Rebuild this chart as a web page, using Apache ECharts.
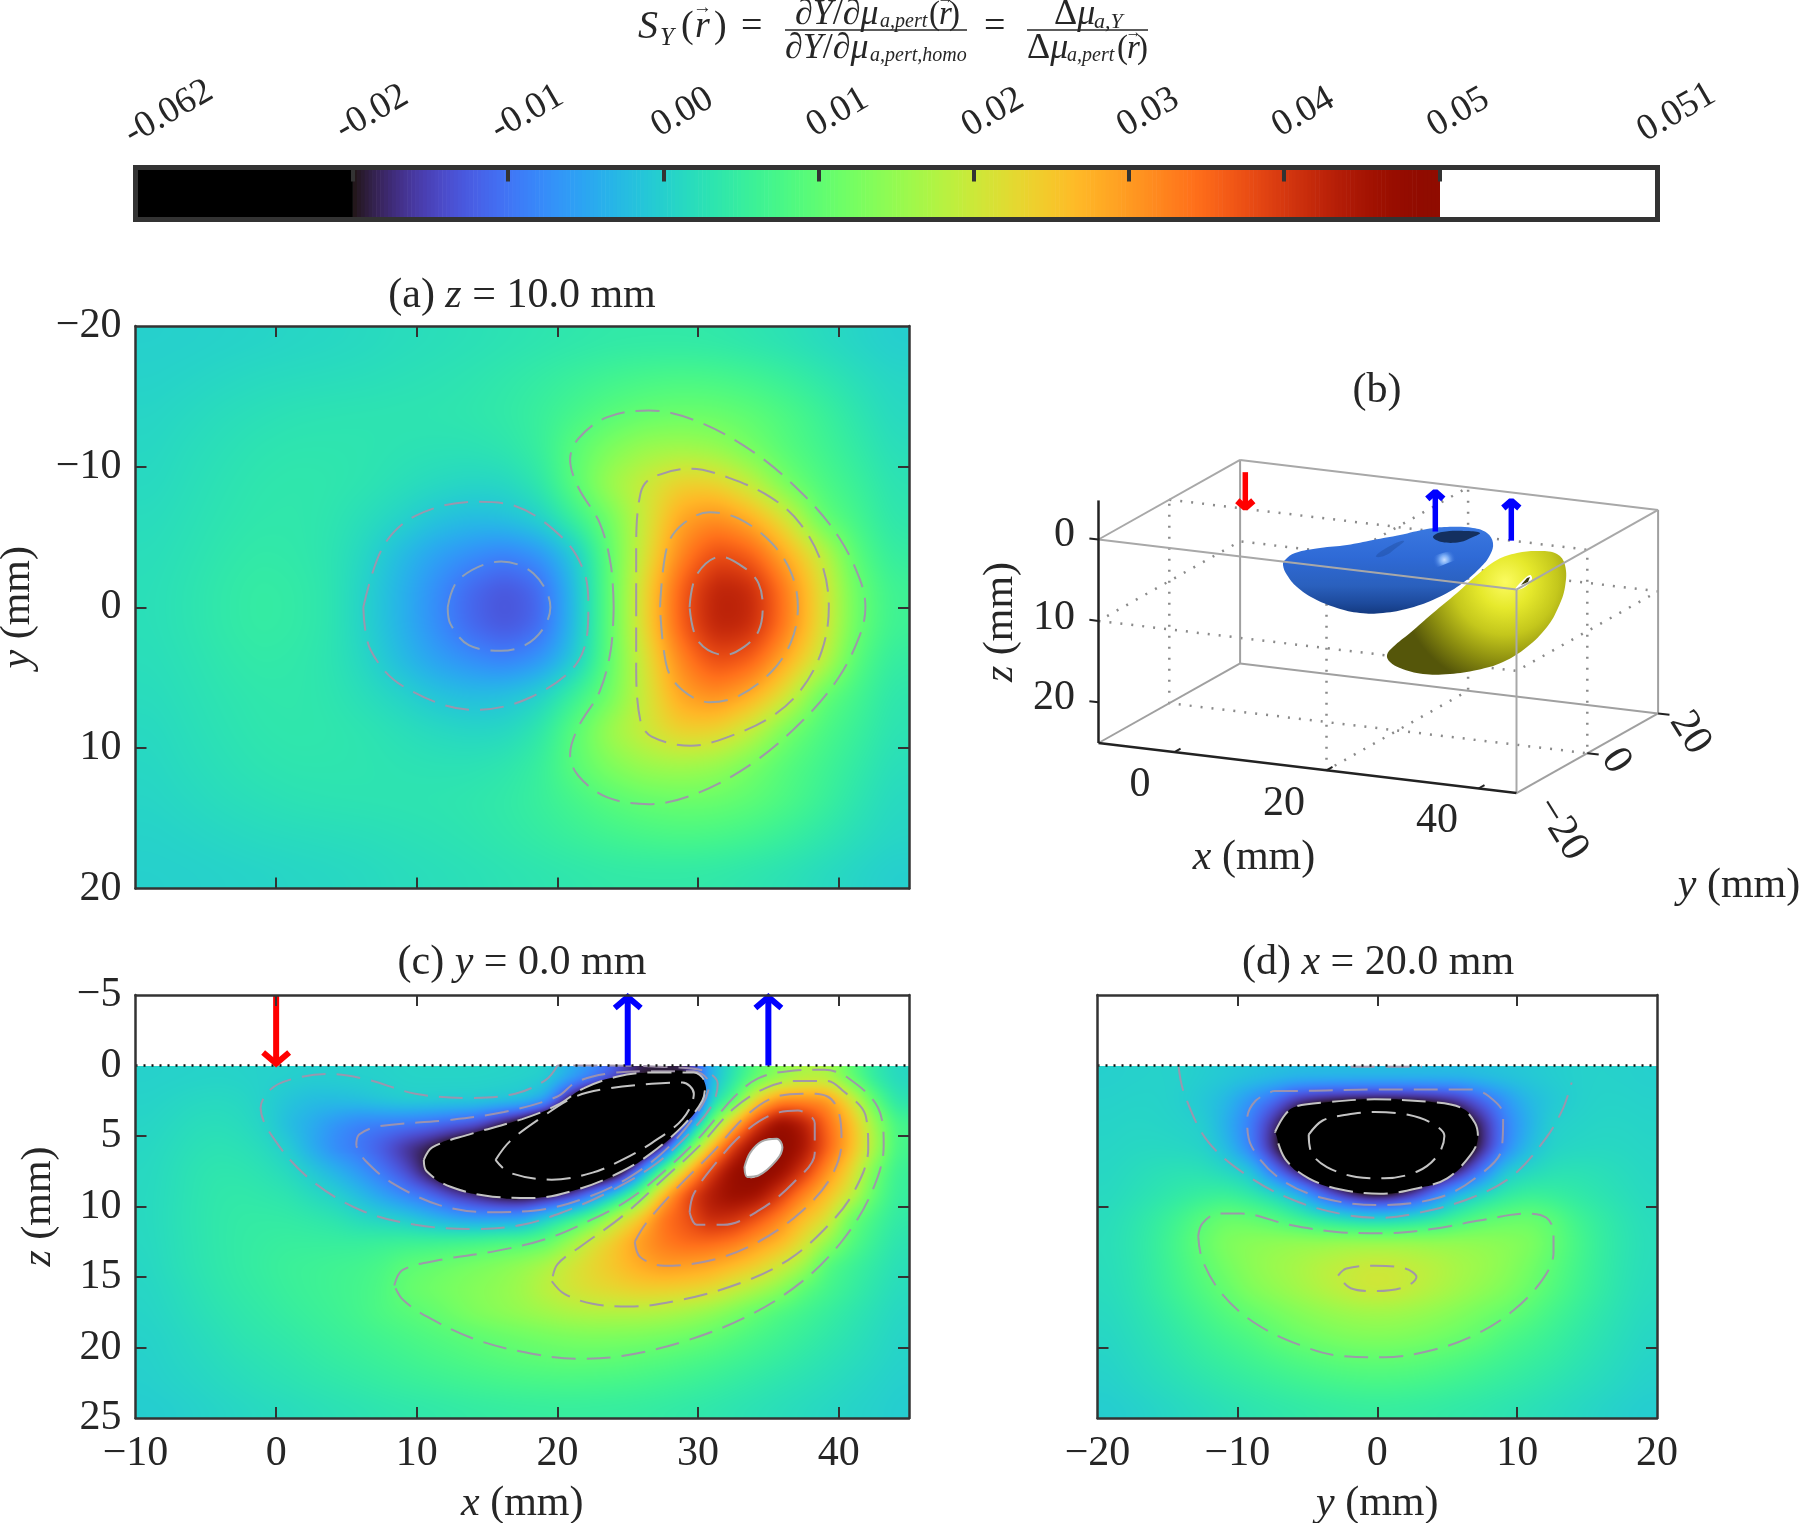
<!DOCTYPE html>
<html><head><meta charset="utf-8">
<style>html,body{margin:0;padding:0;background:#fff}#c{width:1800px;height:1523px}</style>
<script src="https://cdn.jsdelivr.net/npm/echarts@6/dist/echarts.min.js"></script>
</head><body><div id="c"></div>
<script>
// ---------- colour bar ----------
const colorbarTicks=[-0.02,-0.01,0,0.01,0.02,0.03,0.04,0.05];
const colorbarTickLabels=['-0.02','-0.01','0.00','0.01','0.02','0.03','0.04','0.05'];
const colorbarMinLabel='-0.062', colorbarMaxLabel='0.051';
// ---------- field values, unit 0.001, cell centred ----------
const fieldA=[ // z=10, rows y=-18.75..18.75 step 2.5, cols x=-8.75..43.75 step 2.5
[0,.1,.3,.5,.8,1,1.3,1.7,2,2.3,2.7,3.1,3.5,3.9,4,4,3.8,3.2,2.5,1.5,.6,-.2],
[.3,.6,1,1.4,1.6,1.8,2,2.3,2.6,3,3.6,4.4,5.4,6.4,7.2,7.6,7.3,6.5,5.2,3.6,2,.8],
[.7,1.2,1.8,2.2,2.6,2.8,2.9,3,3.1,3.4,4,5.2,7,9,10.4,11,10.8,9.6,7.8,5.6,3.2,1.3],
[1,1.7,2.3,2.9,3.2,3.2,3.1,2.8,2.6,2.6,3.2,5,9.5,13,15.5,16,15,12,8.8,6.5,4.2,2],
[1.3,2,2.7,3.3,3.5,3.4,3,2.2,1.4,.8,1,3.5,9.5,16,20,24,23.5,19,12,8,5.4,2.8],
[1.7,2.3,3,3.5,3.6,3.2,2,.5,-1.5,-2.5,-2,0,5.5,11.5,20,29,31.5,28,21,10.5,6.8,3.4],
[2,2.6,3.4,4,3.8,3,1,-2.5,-5.5,-7.5,-9,-7,-1,10,21,32,38,36,28,19.5,9,4.6],
[2.2,2.9,3.8,4.5,4.2,3.2,.3,-3.5,-7.5,-11.5,-13.5,-11.5,-2.5,10,23,36,43,42,33,22,11,6],
[2.2,2.9,3.8,4.5,4.2,3.2,.3,-3.5,-7.5,-11.5,-13.5,-11.5,-2.5,10,23,36,43,42,33,22,11,6],
[2,2.6,3.4,4,3.8,3,1,-2.5,-5.5,-7.5,-9,-7,-1,10,21,32,38,36,28,19.5,9,4.6],
[1.7,2.3,3,3.5,3.6,3.2,2,.5,-1.5,-2.5,-2,0,5.5,11.5,20,29,31.5,28,21,10.5,6.8,3.4],
[1.3,2,2.7,3.3,3.5,3.4,3,2.2,1.4,.8,1,3.5,9.5,16,20,24,23.5,19,12,8,5.4,2.8],
[1,1.7,2.3,2.9,3.2,3.2,3.1,2.8,2.6,2.6,3.2,5,9.5,13,15.5,16,15,12,8.8,6.5,4.2,2],
[.7,1.2,1.8,2.2,2.6,2.8,2.9,3,3.1,3.4,4,5.2,7,9,10.4,11,10.8,9.6,7.8,5.6,3.2,1.3],
[.3,.6,1,1.4,1.6,1.8,2,2.3,2.6,3,3.6,4.4,5.4,6.4,7.2,7.6,7.3,6.5,5.2,3.6,2,.8],
[0,.1,.3,.5,.8,1,1.3,1.7,2,2.3,2.7,3.1,3.5,3.9,4,4,3.8,3.2,2.5,1.5,.6,-.2]];
const fieldC=[ // y=0, rows z=0.83..24.17 step 1.667, cols x=-9.17..44.17 step 1.667
[.1,.2,.3,.4,.3,.1,0,-.3,-.2,0,.2,.5,.6,.6,.6,.5,.3,0,-4,-8,-13,-19,-19,-19,-4,3,9.5,14,17,17,10,4,1],
[.4,.7,1.1,1.3,1,0,-1.5,-2.5,-2.5,-2,-1,-.2,-.3,-.5,-.5,-1,-1.5,-5,-20,-32,-36,-37,-37,-34,0,8,24,32,32,31,22,10,3],
[.7,1.2,1.8,2,1.6,.4,-2.5,-4.5,-7,-9,-9.5,-10,-11,-12.5,-14,-19,-24,-32,-37,-42,-44,-44,-42,-10,10,27,40,48,44,35,27,16,7],
[1,1.6,2.3,2.7,2.4,1.5,-.5,-4.5,-8,-10,-13,-17,-19.5,-23,-26,-29,-33,-37,-39,-39,-37,-30,-16,8,26,40,48,49,45,36,27,17,7],
[1.2,1.9,2.8,3.3,3.2,2.6,1.4,-1,-3.5,-6.5,-10,-14,-20,-25,-27,-29,-31,-32,-31,-30,-25,-9,10,26,39,47,49.5,47,40,31,23,12,5.5],
[1.3,2,2.9,3.6,3.8,3.5,3,1.5,0,-2.5,-5.5,-8.5,-11,-15,-18,-21,-22,-20.5,-17,-9,0,11,27,38,44,47,46,39.5,32,26,19.5,10,5],
[1.3,2.1,3,3.7,4.2,4.3,4.2,3.7,3,1.4,.3,-.8,-3,-5,-6,-6,-5.5,0,5,10,18.5,25,34,37,42,41,37,32,26,21.5,11,7,4],
[1.2,2,2.9,3.7,4.3,4.7,5,5,5,5,5.5,5.8,6,6.5,7,8,8.5,10,15,21,25,30,33,35,35,33.5,30,27,21.5,15,9,5.5,3],
[1,1.9,2.8,3.6,4.3,4.9,5.5,5.8,6.2,6.6,7.5,9.5,10.5,11.5,12.5,13.5,15,17,20.5,23,25.5,28,30,29.5,28.5,26.5,24,20,16,8.5,6,4,2.2],
[.8,1.5,2.4,3.3,4,4.6,5.3,5.8,6.3,6.9,8,10.5,11.5,12.5,13.5,14.5,16,18.5,20.5,22,23,24,24,23.5,22.5,19.5,17,14,9.5,7,5,3.1,1.6],
[.6,1.2,2,2.8,3.5,4.1,4.8,5.4,6,6.8,8,9,10,11.5,13,14,15,16,17,17.5,17.5,17.5,17,16,14.5,12.5,10,8,6.5,5,3.5,2.2,1],
[.3,.8,1.5,2.2,3,3.5,4,4.7,5.3,5.9,6.6,7.4,8.2,9,9.8,10.6,11.3,12,12.5,12.8,12.7,12.5,12,11.3,10.2,8.8,7.4,6.2,5,3.8,2.7,1.6,.6],
[.1,.6,1.1,1.7,2.3,2.8,3.3,3.9,4.5,5,5.6,6.2,6.9,7.5,8.2,8.8,9.3,9.7,10,9.9,9.7,9.2,8.7,8,7.3,6.4,5.5,4.6,3.6,2.7,1.9,1.1,.3],
[-.1,.3,.7,1.2,1.7,2.2,2.6,3.1,3.5,4,4.5,5,5.4,5.9,6.3,6.7,7,7.2,7.3,7.2,7,6.7,6.2,5.7,5.1,4.4,3.7,3,2.4,1.8,1.1,.5,-.1],
[-.4,-.2,.2,.6,1,1.4,1.7,2.1,2.5,2.8,3.2,3.5,3.8,4.1,4.4,4.6,4.8,4.9,5,4.9,4.8,4.6,4.3,3.9,3.5,3,2.5,2,1.5,1,.5,.1,-.4]];
const fieldD=[ // x=20, rows z=0.83..24.17 step 1.667, cols y=-19.17..19.17 step 1.667
[-.1,.1,.2,.1,-.4,-1,-1.5,-2,-2.5,-2.5,-2.5,-2.5,-2.5,-2.5,-2.5,-2.5,-2,-1.5,-1,-.4,0,.2,.1,-.1],
[.2,.4,.4,-.1,-1.2,-3,-7,-11,-17,-19,-20,-20.5,-20.5,-20,-19,-17,-12,-7,-3,-1.2,-.1,.4,.4,.2],
[.5,.7,.6,.3,-.2,-4,-9,-17,-24,-29,-33,-35,-35,-33,-29,-24,-18,-9,-4,0,.4,.7,.7,.5],
[.7,1,1.1,.9,.4,-2.6,-8.5,-18,-26,-32,-38,-41,-41,-38,-32,-26,-18,-8.5,-2.6,.4,.9,1.1,1,.7],
[1,1.6,2.2,2.6,2.4,1,-1,-9.5,-18,-24,-30,-33,-33,-30,-24,-18,-9.5,-1,1,2.4,2.6,2.2,1.6,1],
[1.3,2.1,3,4,5,5.5,4,1.5,-2.5,-10,-16,-20,-20,-16,-9,-2.5,1,4,5.5,5,4,3,2.1,1.3],
[1.8,2.9,4.5,6.5,9,11,10.5,8.8,6,3.5,1.5,.3,.3,1.5,3.5,6.5,9.3,10.5,11,9.5,6.5,4.5,2.9,1.8],
[2,3.2,5,7.5,10.5,13,14,14.5,15,15,15.5,15.5,15.5,15.5,15,15,14.5,14,13,10.5,7.5,5,3.2,2],
[1.9,3,4.8,7,9.5,12,14,15.5,16.5,18,19,20,20,19,18,16.5,15.5,14,12,9.5,7,4.8,3,1.9],
[1.7,2.8,4.5,6.4,8.5,10.6,13,14.5,16,17.5,19,20.3,20.3,19,17.5,16,14.5,13,11,8.7,6.4,4.5,2.8,1.7],
[1.3,2.3,3.6,5.2,6.9,8.7,10.3,11.8,13.2,14.4,15.3,15.8,15.8,15.3,14.4,13.2,11.8,10.6,8.9,6.9,5.2,3.6,2.3,1.3],
[.9,1.8,2.9,4.1,5.5,6.8,8,9.7,11,12,12.8,13.2,13.2,12.8,12,11,9.8,8,6.8,5.5,4.1,2.9,1.8,.9],
[.5,1.3,2.2,3.2,4.3,5.2,6.2,7.2,8.2,9,9.7,10,10,9.7,9,8.2,7.2,6.2,5.2,4.3,3.2,2.2,1.3,.5],
[.1,.8,1.5,2.2,3,3.8,4.5,5.2,5.9,6.5,7,7.3,7.3,7,6.5,5.9,5.2,4.5,3.8,3,2.2,1.5,.8,.1],
[-.4,0,.6,1.2,1.8,2.4,3,3.5,3.9,4.3,4.6,4.8,4.8,4.6,4.3,3.9,3.5,3,2.4,1.8,1.2,.6,0,-.4]];
// ---------- contour lines, [mm, mm] ----------
const contA_p10=[[24,0],[23.8,-3],[23,-6],[21.5,-8.5],[20.9,-10.5],[21.5,-12],[23.5,-13.5],[26.5,-14],[30,-13.2],[34,-11],[37.5,-8],[40,-5],[41.5,-2],[41.9,0],[41.5,2],[40,5],[37.5,8],[34,11],[30,13.2],[26.5,14],[23.5,13.5],[21.5,12],[20.9,10.5],[21.5,8.5],[23,6],[23.8,3],[24,0]];
const contA_p20=[[25.6,0],[25.6,-4],[25.9,-8.06],[26.7,-9.2],[29.5,-9.85],[32.2,-9.2],[35.2,-7.8],[37.3,-5.9],[38.8,-3.1],[39.3,0],[38.8,3.1],[37.3,5.9],[35.2,7.8],[32.2,9.2],[29.5,9.85],[26.7,9.2],[25.9,8.06],[25.6,4],[25.6,0]];
const contA_p30=[[27.3,0],[27.8,-4.3],[28.9,-5.9],[30.8,-6.75],[32.9,-6.3],[35.2,-4.6],[36.6,-2.5],[37.1,0],[36.6,2.5],[35.2,4.6],[32.9,6.3],[30.8,6.75],[28.9,5.9],[27.8,4.3],[27.3,0]];
const contA_p40=[[29.4,0],[29.9,-2.3],[31.6,-3.6],[33.3,-2.8],[34.3,-1.7],[34.6,0],[34.3,1.7],[33.3,2.8],[31.9,3.4],[30,2.4],[29.4,0]];
const contA_0=[[6.2,0],[7.6,-4.3],[9.9,-6.5],[14.1,-7.5],[17,-7.2],[20.4,-4.9],[21.9,-2.5],[22.2,0],[21.5,3.8],[18.1,6.4],[14.1,7.3],[9,5.6],[6.7,3],[6.2,0]];
const contA_n10=[[12.2,0],[13,-2],[16,-3.25],[18.3,-2.4],[19.5,0],[19,1.5],[17.7,2.7],[16,3.1],[13.7,2.7],[12.4,1.2],[12.2,0]];
const contC_0=[[20,0],[19.2,1],[17,2],[13.7,2.3],[9.9,2],[6.5,1],[3.6,.6],[1,1],[-.4,1.7],[-1.1,3],[.2,5.7],[2.7,8.3],[6.1,10.3],[9.9,11.3],[14.1,11.6],[17.5,11.3],[20.4,10.4],[23.4,9.1],[26.7,7.2],[29.3,4.9],[31,2.8],[31.4,1.3],[30.5,.4],[27.6,.1],[23.4,0],[20,0]];
const contC_n10=[[5.7,5.7],[5.9,4.9],[7.4,4.3],[12,3.9],[16.2,3.3],[20,2.2],[21.3,1.2],[23.4,.6],[26.7,.4],[29.7,.4],[30.8,1.3],[30.3,2.8],[28,5.7],[25,8],[21.7,9.5],[18.3,10.3],[15,10.4],[11.6,9.9],[8.2,8.3],[6.3,6.7],[5.7,5.7]];
const contC_n20=[[10.5,6.7],[11.1,5.8],[13.7,4.9],[17.5,3.8],[20,2.8],[21.9,1.6],[24.2,.8],[26.7,.5],[29.7,.5],[30.5,1.3],[30.3,2.5],[28.9,4.3],[26.7,6.2],[24.6,7.5],[21.7,8.7],[18.3,9.4],[15.4,9.3],[12.4,8.6],[10.7,7.5],[10.5,6.7]];
const contC_n30=[[15.6,6.7],[16.6,5.4],[18.7,3.8],[21.3,2.2],[23.8,1.6],[26.7,1.3],[28.9,1.2],[29.7,2],[28.9,3.8],[26.7,5.5],[24.6,6.7],[22.5,7.6],[19.6,8.1],[16.6,7.6],[15.6,6.7]];
const contC_p10=[[8.4,15.6],[9,14.5],[11.6,13.8],[15.4,13.2],[19.2,12.3],[22.5,10.9],[25.1,9.5],[27.6,7.5],[30.1,5.1],[32.6,2.2],[34.3,.9],[36.4,.4],[39,.3],[40.7,.9],[42.8,3],[43.2,5.7],[42.3,9.1],[40.2,12.5],[37.3,15.4],[33.5,17.8],[28.9,19.6],[24.6,20.6],[21.3,20.8],[17.5,20.3],[14.1,19.4],[10.7,17.8],[9,16.6],[8.4,15.6]];
const contC_p20=[[19.6,15.3],[20.5,16.2],[22.5,16.9],[25.1,17.1],[28.9,16.6],[33.1,15.4],[36.4,13.8],[38.9,11.7],[41,9.1],[42.1,5.9],[41.9,3.5],[40.2,1.7],[39.2,1.1],[36.9,1.1],[34.8,1.6],[32.6,3],[30.1,5.7],[27.6,8],[24.6,10.7],[21.7,12.8],[20,14.1],[19.6,15.3]];
const contC_p30=[[25.5,12.5],[25.9,13.6],[27.6,14.2],[31,13.8],[34.3,12.5],[37.3,10.4],[39.4,8],[40.2,5.4],[40,3.3],[39.2,2.2],[37.7,2],[35.6,2.2],[33.5,3.5],[31,6.2],[28.4,8.8],[26.3,11.2],[25.5,12.5]];
const contC_p40=[[29.4,10.4],[29.9,11.3],[31.8,11.3],[34.3,10.3],[36.8,8.3],[38.3,6.2],[38.3,4.1],[37.1,3.2],[35.2,3.5],[33.1,4.9],[31.2,7],[29.7,9.1],[29.4,10.4]];
const contC_p50=[[33.3,7.2],[33.7,6.2],[34.5,5.4],[35.6,5.2],[36,5.8],[35.6,6.7],[34.3,7.8],[33.5,7.9],[33.3,7.2]];
const contD_0=[[-14.2,.1],[-13.8,2],[-12.1,5.4],[-9,8],[-5.6,9.7],[-2.2,10.6],[.2,10.8],[3.2,10.4],[6.7,9.4],[9.7,7.8],[12.1,5.1],[13.3,3],[13.9,1.2]];
const contD_top=[[-1.9,.08],[3.2,.08]];
const contD_n10=[[-7.4,1.8],[-5.6,1.8],[-.2,1.7],[6.7,1.7],[8,2.2],[9,3.5],[8.9,5.9],[7,8],[4.3,9.4],[.2,9.9],[-3.9,9.4],[-7,8],[-9,5.7],[-9.3,3.8],[-8.7,2.5],[-7.4,1.8]];
const contD_n20=[[-7.3,4.7],[-6.6,3.5],[-5.8,2.9],[-3.6,2.6],[-.2,2.4],[4,2.6],[6,3],[7,4.1],[7.2,5.1],[6.7,6.3],[5,8],[2.9,8.7],[.2,9.1],[-2.6,8.8],[-4.9,8],[-6.6,6.6],[-7.3,4.7]];
const contD_n30=[[-4.9,4.9],[-3.9,3.9],[-2.2,3.5],[-.2,3.3],[2.2,3.5],[3.9,4.1],[4.8,5],[4.3,6.4],[2.9,7.5],[.5,8],[-1.5,7.9],[-3.6,7.2],[-4.7,6.2],[-4.9,4.9]];
const contD_p10=[[-12.8,12.1],[-12.5,11.2],[-11.4,10.5],[-9.7,10.5],[-6.3,11.3],[-2.9,11.8],[.5,11.9],[3.9,11.6],[7.3,11],[10.7,10.5],[12.1,10.8],[12.6,11.9],[12.6,13.3],[11.8,15.2],[9.7,17.4],[7,19.1],[3.9,20.2],[.5,20.7],[-2.6,20.6],[-5.6,19.8],[-8.7,18.3],[-11.1,16.2],[-12.5,13.8],[-12.8,12.1]];
const contD_p20=[[-2.8,14.9],[-2.2,14.4],[-.2,14.2],[2,14.4],[2.8,15],[2,15.7],[-.2,16],[-1.9,15.8],[-2.8,14.9]];
// ---------- source / detector arrows [position, from depth, to depth] ----------
const arrowsC=[[0,-5,0,'#ff0000'],[25,0,-5,'#0000ff'],[35,0,-5,'#0000ff']];
const arrows3D=[[0,0,-4.5,0,'#ff0000'],[25,0,0,-5,'#0000ff'],[35,0,0,-5,'#0000ff']];
// ---------- panel (b) ----------
const sliceZ=[[-10,-20,10],[45,-20,10],[45,20,10],[-10,20,10],[-10,-20,10]];
const sliceY=[[-10,0,0],[45,0,0],[45,0,25],[-10,0,25],[-10,0,0]];
const sliceX=[[20,-20,0],[20,20,0],[20,20,25],[20,-20,25],[20,-20,0]];
const boxBack=[[[-10,20,0],[-10,20,25]],[[-10,-20,25],[-10,20,25]],[[-10,20,25],[45,20,25]],[[45,20,0],[45,20,25]],[[45,-20,25],[45,20,25]]];
const boxFront=[[[-10,-20,0],[45,-20,0]],[[-10,-20,0],[-10,20,0]],[[-10,20,0],[45,20,0]],[[45,20,0],[45,-20,0]],[[45,-20,0],[45,-20,25]]];
const axes3Dark=[[[-10,-20,-4.8],[-10,-20,25]],[[-10,-20,25],[45,-20,25]]];
const blueBlob=[[1283,565],[1285,560],[1295,553],[1320,548],[1347,545],[1373,540],[1400,535],[1427,529],[1447,527],[1473,528],[1487,533],[1493,543],[1490,555],[1480,568],[1460,585],[1437,598],[1410,608],[1383,613],[1360,613],[1337,608],[1313,598],[1297,587],[1287,575]];
const blueStreak=[[1412,568],[1434,556],[1458,551],[1464,555],[1448,563],[1425,570]];
const blueCrease=[[1376,556],[1392,545],[1404,541],[1396,548],[1384,556]];
const blueHole=[[1433,537],[1442,532],[1467,531],[1480,533],[1473,537],[1460,542],[1442,542]];
const yellowBlob=[[1387,655],[1393,647],[1410,633],[1433,613],[1457,593],[1477,575],[1497,560],[1517,553],[1540,551],[1557,554],[1565,565],[1565,587],[1558,608],[1547,627],[1527,647],[1503,662],[1477,670],[1450,674],[1423,674],[1400,668],[1390,662]];
const yellowGlint=[[1515,590],[1522,581],[1530,575],[1532,579],[1525,587]];
const yellowHole=[[1521,585],[1527,578],[1530,577],[1528,582]];

const FONT='"Liberation Serif"';
const TXT='#262626', AX='#333333', FS=42;
const rich={i:{fontStyle:'italic',fontFamily:FONT,fontSize:FS,color:TXT}};
function turbo(x){
 const c=(a)=>a[0]+x*(a[1]+x*(a[2]+x*(a[3]+x*(a[4]+x*a[5]))));
 const r=c([0.13572138,4.6153926,-42.66032258,132.13108234,-152.94239396,59.28637943]);
 const g=c([0.09140261,2.19418839,4.84296658,-14.18503333,4.27729857,2.82956604]);
 const b=c([0.1066733,12.64194608,-60.58204836,110.36276771,-89.90310912,27.34824973]);
 const f=v=>Math.round(255*Math.max(0,Math.min(1,v)));
 return [f(r),f(g),f(b)];
}
function valColor(v){ // v in units of 0.001
 if(v<-20) return [0,0,0]; if(v>50) return [255,255,255];
 return turbo((v+20)/70);
}
function shade(rows,w,h){
 const ny=rows.length,nx=rows[0].length;
 const F=new Float32Array(w*h);
 for(let j=0;j<h;j++){
  const fy=Math.max(0,Math.min(ny-1.0001,(j+.5)/h*ny-.5)),j0=Math.floor(fy),ty=fy-j0;
  for(let i=0;i<w;i++){
   const fx=Math.max(0,Math.min(nx-1.0001,(i+.5)/w*nx-.5)),i0=Math.floor(fx),tx=fx-i0;
   F[j*w+i]=(rows[j0][i0]*(1-tx)+rows[j0][i0+1]*tx)*(1-ty)+(rows[j0+1][i0]*(1-tx)+rows[j0+1][i0+1]*tx)*ty;
  }
 }
 const rx=Math.round(w/nx*.3),ry=Math.round(h/ny*.3);
 let G=F;
 for(let p=0;p<2;p++){
  const T=new Float32Array(w*h);
  for(let j=0;j<h;j++)for(let i=0;i<w;i++){let s=0,n=0;for(let k=-rx;k<=rx;k+=2){s+=G[j*w+Math.max(0,Math.min(w-1,i+k))];n++}T[j*w+i]=s/n}
  const U=new Float32Array(w*h);
  for(let j=0;j<h;j++)for(let i=0;i<w;i++){let s=0,n=0;for(let k=-ry;k<=ry;k+=2){s+=T[Math.max(0,Math.min(h-1,j+k))*w+i];n++}U[j*w+i]=s/n}
  G=U;
 }
 const cv=document.createElement('canvas');cv.width=w;cv.height=h;
 const ctx=cv.getContext('2d'),im=ctx.createImageData(w,h);
 for(let q=0;q<w*h;q++){const c=valColor(G[q]);im.data[q*4]=c[0];im.data[q*4+1]=c[1];im.data[q*4+2]=c[2];im.data[q*4+3]=255}
 ctx.putImageData(im,0,0);return cv;
}
function fieldSeries(gi,rows,xMin,xMax,yMin,yMax){
 const ny=rows.length,nx=rows[0].length,data=[];
 rows.forEach((r,j)=>r.forEach((v,i)=>data.push([xMin+(i+.5)*(xMax-xMin)/nx,yMin+(j+.5)*(yMax-yMin)/ny,v])));
 let cv=null;
 return {type:'custom',xAxisIndex:gi.x,yAxisIndex:gi.y,z:1,silent:true,data,encode:{x:0,y:1},
  renderItem(p,api){ if(p.dataIndex!==0)return null;
   const a=api.coord([xMin,yMin]),b=api.coord([xMax,yMax]),w=Math.round(b[0]-a[0]),h=Math.round(b[1]-a[1]);
   if(!cv)cv=shade(rows,w,h);
   return {type:'image',style:{image:cv,x:a[0],y:a[1],width:b[0]-a[0],height:b[1]-a[1]},silent:true};
  }};
}
function polySeries(gi,pts,fill,z,smooth){
 return {type:'custom',xAxisIndex:gi.x,yAxisIndex:gi.y,z,silent:true,data:pts,encode:{x:0,y:1},
  renderItem(p,api){ if(p.dataIndex!==0)return null;
   return {type:'polygon',shape:{points:pts.map(q=>api.coord(q)),smooth:smooth==null?.5:smooth},style:{fill}};
  }};
}
function contour(gi,pts,color){
 return {type:'line',xAxisIndex:gi.x,yAxisIndex:gi.y,z:4,data:pts,smooth:.35,showSymbol:false,silent:true,animation:false,
  lineStyle:{color:color||'rgba(160,148,172,.95)',width:2,type:[24,11]}};
}
function arrowSeries(gi,arrows,head,lw){
 return {type:'custom',xAxisIndex:gi.x,yAxisIndex:gi.y,z:6,silent:true,data:arrows.map(a=>[a[0],a[1],a[2]]),encode:{x:0,y:1},
  renderItem(p,api){const a=arrows[p.dataIndex],A=api.coord([a[0],a[1]]),B=api.coord([a[0],a[2]]),s=B[1]>A[1]?-1:1;
   return {type:'group',children:[
    {type:'line',shape:{x1:A[0],y1:A[1],x2:B[0],y2:B[1]},style:{stroke:a[3],lineWidth:lw}},
    {type:'polyline',shape:{points:[[B[0]-head,B[1]+s*head],[B[0],B[1]+s*2],[B[0]+head,B[1]+s*head]]},style:{stroke:a[3],lineWidth:lw,fill:null}}]};
  }};
}
// projection of panel (b): mm -> drawing plane
const proj=(p)=>[1098.5+(p[0]+10)*7.6+(p[1]+20)*3.54,539.5+(p[0]+10)*.91-(p[1]+20)*1.99+p[2]*8.14];
const PAGE={x:7,y:7};
function line3D(pts,color,w,type,z){
 return {type:'line',xAxisIndex:PAGE.x,yAxisIndex:PAGE.y,z,data:pts.map(proj),showSymbol:false,silent:true,animation:false,lineStyle:{color,width:w,type:type||'solid'}};
}
function arrow3D(a){
 const A=proj([a[0],a[1],a[2]]),B=proj([a[0],a[1],a[3]]),s=B[1]>A[1]?-1:1;
 return [
  {type:'line',xAxisIndex:PAGE.x,yAxisIndex:PAGE.y,z:8,data:[A,B],showSymbol:false,silent:true,animation:false,lineStyle:{color:a[4],width:5.5,cap:'butt'}},
  {type:'line',xAxisIndex:PAGE.x,yAxisIndex:PAGE.y,z:8,data:[[B[0]-8,B[1]+s*8],[B[0],B[1]+s],[B[0]+8,B[1]+s*8]],showSymbol:false,silent:true,animation:false,lineStyle:{color:a[4],width:6.5}}];
}
function AXIS(gridIndex,o){
 const base={type:'value',gridIndex,min:o.min,max:o.max,position:o.pos,inverse:!!o.inv,z:10,splitLine:{show:false},
  axisLine:{show:true,onZero:false,lineStyle:{color:AX,width:2.5}},
  axisTick:{show:true,inside:true,length:11,lineStyle:{color:AX,width:2},customValues:o.ticks},
  axisLabel:{show:!!o.labels,customValues:o.labels||[],margin:o.margin||16,color:TXT,fontFamily:FONT,fontSize:FS,
   hideOverlap:false,formatter:v=>v<0?'\u2212'+Math.abs(v):String(v)}};
 if(o.name){base.name=o.name;base.nameLocation='middle';base.nameGap=o.gap;base.nameRotate=o.rot||0;
  base.nameTextStyle={fontFamily:FONT,fontSize:FS,color:TXT,rich};}
 return base;
}
const xt=[0,10,20,30,40], zt=[5,10,15,20];
const xAxes=[
 {type:'value',gridIndex:0,min:-0.03401,max:0.06405,position:'top',splitLine:{show:false},z:10,
  axisLine:{show:false,onZero:false},
  axisTick:{show:true,inside:true,length:14,lineStyle:{color:AX,width:4},customValues:colorbarTicks},
  axisLabel:{show:true,rotate:-30,margin:44,color:TXT,fontFamily:FONT,fontSize:37,hideOverlap:false,
   align:'center',verticalAlign:'middle',padding:[0,0,0,44],
   customValues:[-0.0331,...colorbarTicks,0.06405],
   formatter:v=>{if(v<-0.03)return colorbarMinLabel;if(v>0.06)return colorbarMaxLabel;return colorbarTickLabels[colorbarTicks.findIndex(t=>Math.abs(t-v)<1e-6)]}}},
 AXIS(1,{min:-10,max:45,pos:'bottom',ticks:xt}),AXIS(1,{min:-10,max:45,pos:'top',ticks:xt}),
 AXIS(2,{min:-10,max:45,pos:'bottom',ticks:xt,labels:[-10,0,10,20,30,40],margin:15,name:'{i|x} (mm)',gap:65}),AXIS(2,{min:-10,max:45,pos:'top',ticks:xt}),
 AXIS(3,{min:-20,max:20,pos:'bottom',ticks:[-10,0,10],labels:[-20,-10,0,10,20],margin:15,name:'{i|y} (mm)',gap:65}),AXIS(3,{min:-20,max:20,pos:'top',ticks:[-10,0,10]}),
 {type:'value',gridIndex:4,min:0,max:1800,show:false},
];
const yAxes=[
 {type:'value',gridIndex:0,min:0,max:1,show:false},
 AXIS(1,{min:-20,max:20,inv:true,pos:'left',ticks:[-10,0,10],labels:[-20,-10,0,10,20],margin:14,name:'{i|y} (mm)',gap:97,rot:90}),AXIS(1,{min:-20,max:20,inv:true,pos:'right',ticks:[-10,0,10]}),
 AXIS(2,{min:-5,max:25,inv:true,pos:'left',ticks:zt,labels:[-5,0,5,10,15,20,25],margin:14,name:'{i|z} (mm)',gap:76,rot:90}),AXIS(2,{min:-5,max:25,inv:true,pos:'right',ticks:zt}),
 AXIS(3,{min:-5,max:25,inv:true,pos:'left',ticks:[10,20]}),AXIS(3,{min:-5,max:25,inv:true,pos:'right',ticks:[10,20]}),
 {type:'value',gridIndex:4,min:0,max:1523,inverse:true,show:false},
];
const GA={x:1,y:1},GC={x:3,y:3},GD={x:5,y:5};
const series=[];
// colour bar
const cbSamples=[];
for(let k=0;k<=280;k++)cbSamples.push(k*0.00025-0.02);
series.push({type:'custom',xAxisIndex:0,yAxisIndex:0,z:1,silent:true,data:cbSamples.map(v=>[v,0.5]),encode:{x:0,y:1},
 renderItem(p,api){const v=cbSamples[p.dataIndex],a=api.coord([v,1]),b=api.coord([v+0.00025,0]),c=turbo(Math.min(1,(v+.02)/.07));
  if(p.dataIndex>=280)return null;
  return {type:'rect',shape:{x:a[0],y:a[1],width:b[0]-a[0]+.6,height:b[1]-a[1]},style:{fill:`rgb(${c})`}};}});
series.push({type:'custom',xAxisIndex:0,yAxisIndex:0,z:1,silent:true,data:[[-0.03401,0.5]],encode:{x:0,y:1},
 renderItem(p,api){const a=api.coord([-0.03401,1]),b=api.coord([-0.02,0]);return {type:'rect',shape:{x:a[0],y:a[1],width:b[0]-a[0],height:b[1]-a[1]},style:{fill:'#000'}};}});
// fields
series.push(fieldSeries(GA,fieldA,-10,45,-20,20));
series.push(fieldSeries(GC,fieldC,-10,45,0,25));
series.push(fieldSeries(GD,fieldD,-20,20,0,25));
// black / white regions
series.push(polySeries(GC,contC_n20,'#000',2));
series.push(polySeries(GD,contD_n20,'#000',2));
series.push(polySeries(GC,contC_p50,'#fff',2));
// contours
[contA_p10,contA_p20,contA_0].forEach(c=>series.push(contour(GA,c)));
[contA_p30,contA_p40,contA_n10].forEach(c=>series.push(contour(GA,c,'rgba(150,160,175,.95)')));
[contC_0,contC_n10,contC_p10,contC_p20,contC_p30,contC_p40].forEach(c=>series.push(contour(GC,c)));
series.push(contour(GC,contC_n20,'#c4c4c4'),contour(GC,contC_n30,'#c4c4c4'));
series.push({type:'line',xAxisIndex:GC.x,yAxisIndex:GC.y,z:4,data:contC_p50,smooth:.35,showSymbol:false,silent:true,animation:false,lineStyle:{color:'#aaa',width:2}});
[contD_0,contD_n10,contD_p10,contD_p20,contD_top].forEach(c=>series.push(contour(GD,c)));
series.push(contour(GD,contD_n20,'#c4c4c4'),contour(GD,contD_n30,'#c4c4c4'));
// surface z=0 and arrows
[GC,GD].forEach((g,i)=>{const r=i?[-20,20]:[-10,45];
 series.push({type:'line',xAxisIndex:g.x,yAxisIndex:g.y,z:5,data:[[r[0],0],[r[1],0]],showSymbol:false,silent:true,animation:false,lineStyle:{color:'#111',width:2.5,type:[2,6]}});});
series.push(arrowSeries(GC,arrowsC,13,6));
// panel (b)
[sliceZ,sliceY,sliceX].forEach(s=>series.push(line3D(s,'#8a8a8a',2.5,[2,9],2)));
boxBack.forEach(s=>series.push(line3D(s,'#a0a0a0',2,'solid',2)));
const PG={x:PAGE.x,y:PAGE.y};
const rad=(x,y,r,st)=>({type:'radial',x,y,r,colorStops:st.map(c=>({offset:c[0],color:c[1]}))});
const lin=(st)=>({type:'linear',x:0,y:0,x2:0,y2:1,colorStops:st.map(c=>({offset:c[0],color:c[1]}))});
series.push(polySeries(PG,blueBlob,lin([[0,'#3a78e0'],[.35,'#2f6ad6'],[.68,'#2a60bd'],[.88,'#1d4a9c'],[1,'#143a80']]),3,.4));
series.push(polySeries(PG,blueStreak,rad(.62,.45,.6,[[0,'#c4dcff'],[.4,'#74a8f4'],[1,'rgba(47,106,214,0)']]),3,.5));
series.push(polySeries(PG,blueCrease,'rgba(24,60,130,.3)',3,.5));
series.push(polySeries(PG,blueHole,'#14305f',3,.4));
series.push(polySeries(PG,yellowBlob,rad(.66,.25,.85,[[0,'#fbfb60'],[.25,'#e6e92c'],[.5,'#c4c71c'],[.75,'#8d8f10'],[1,'#55560a']]),3,.4));
series.push(polySeries(PG,yellowGlint,'#ffffff',3,.4));
series.push(polySeries(PG,yellowHole,'#3a3a08',3,0));
boxFront.forEach(s=>series.push(line3D(s,'#a8a8a8',2,'solid',7)));
axes3Dark.forEach(s=>series.push(line3D(s,'#222',2.5,'solid',7)));
[[0,-20,25,0,-18.3,25],[20,-20,25,20,-18.3,25],[40,-20,25,40,-18.3,25],[45,0,25,46.5,0,25],[45,20,25,46.5,20,25],[-10,-20,0,-11.2,-20,0],[-10,-20,10,-11.2,-20,10],[-10,-20,20,-11.2,-20,20]].forEach(t=>series.push(line3D([[t[0],t[1],t[2]],[t[3],t[4],t[5]]],'#222',2,'solid',7)));
arrows3D.forEach(a=>series.push(...arrow3D(a)));
// text
function T(text,x,y,size,opt){opt=opt||{};
 return {type:'text',x,y,z:20,rotation:(opt.rot||0)*Math.PI/180,silent:true,style:{text,fontFamily:opt.ff||FONT,fontSize:size,fontStyle:opt.it?'italic':'normal',fill:TXT,align:opt.align||'left',verticalAlign:'middle',
  rich:{i:{fontStyle:'italic',fontFamily:FONT,fontSize:size,fill:TXT},t:{fontFamily:FONT,fontSize:size,fill:TXT}}}};
}
function L(x1,y1,x2,y2){return {type:'line',z:20,silent:true,shape:{x1,y1,x2,y2},style:{stroke:TXT,lineWidth:1.6}};}
// r with its vector arrow, written as two text pieces
const RV=(x,y,s)=>[T('r',x,y,s,{it:1}),T('\u2192',x+s*.2,y-s*.5,s*.5,{align:'center'})];
const graphic=[
 {type:'rect',z:30,silent:true,shape:{x:135.5,y:167.5,width:1522,height:52},style:{fill:'none',stroke:AX,lineWidth:5}},
 T('S',638,27,40,{it:1}),T('Y',660,38,25,{it:1}),T('(',681,27,38),...RV(695,27,38),T(')',714,27,38),T('=',741,27,38),
 T('\u2202{i|Y}/\u2202{i|\u03BC}',795,15,36),T('a,pert',880,22,20,{it:1}),T('(',929,15,33),...RV(939,15,33),T(')',949,15,33),
 L(785,30,967,30),
 T('\u2202{i|Y}/\u2202{i|\u03BC}',785,49,36),T('a,pert,homo',870,56,20,{it:1}),
 T('=',984,27,38),
 T('\u0394{i|\u03BC}',1054,15,36),T('a,Y',1094,22,22,{it:1}),
 L(1027,30,1148,30),
 T('\u0394{i|\u03BC}',1027,49,36),T('a,pert',1067,56,20,{it:1}),T('(',1117,49,33),...RV(1127,49,33),T(')',1137,49,33),
 T('(a) {i|z} = 10.0 mm',522,296,42,{align:'center'}),
 T('(b)',1377,391,42,{align:'center'}),
 T('(c) {i|y} = 0.0 mm',522,963,42,{align:'center'}),
 T('(d) {i|x} = 20.0 mm',1378,963,42,{align:'center'}),
 T('0',1075,535,FS,{align:'right'}),T('10',1075,618,FS,{align:'right'}),T('20',1075,698,FS,{align:'right'}),
 T('0',1140,785,FS,{align:'center'}),T('20',1284,804,FS,{align:'center'}),T('40',1437,821,FS,{align:'center'}),
 T('\u221220',1561,829,FS,{align:'center',rot:-58}),T('0',1616,761,FS,{align:'center',rot:-58}),T('20',1690,733,FS,{align:'center',rot:-58}),
 T('{i|x} (mm)',1254,858,FS,{align:'center'}),T('{i|y} (mm)',1739,886,FS,{align:'center'}),T('{i|z} (mm)',1001,622,FS,{align:'center',rot:90}),
];
const chart=echarts.init(document.getElementById('c'),null,{renderer:'canvas',width:1800,height:1523});
const OB='none';
chart.setOption({animation:false,backgroundColor:'#fff',
 grid:[
  {left:135.5,width:1522,top:167.5,height:52,outerBoundsMode:OB},
  {left:135.5,width:773.5,top:326,height:562.5,outerBoundsMode:OB},
  {left:135.5,width:773.5,top:995,height:423,outerBoundsMode:OB},
  {left:1097.5,width:559.5,top:995,height:423,outerBoundsMode:OB},
  {left:0,top:0,width:1800,height:1523,outerBoundsMode:OB}],
 xAxis:xAxes,yAxis:yAxes,series,graphic:{elements:graphic}});
</script></body></html>
